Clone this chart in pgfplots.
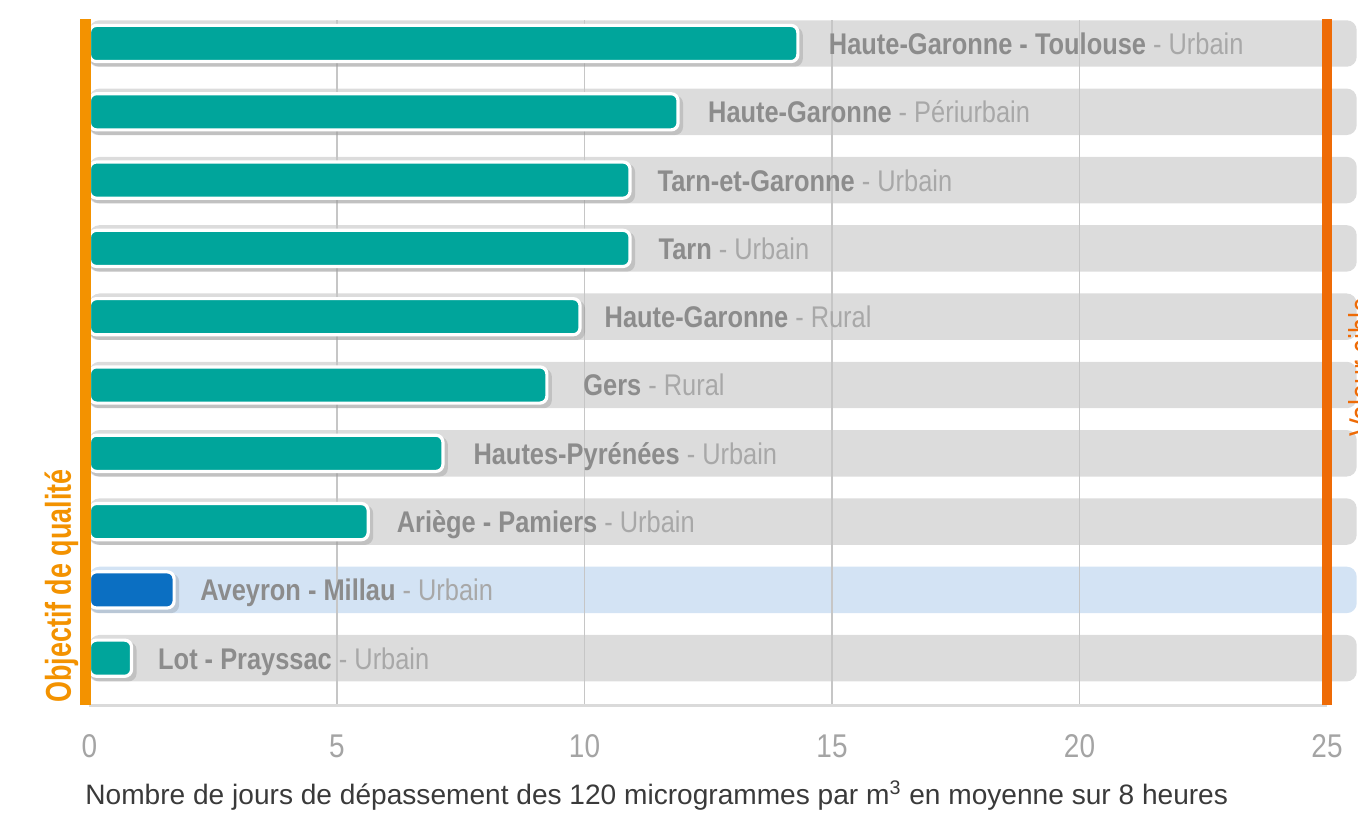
\documentclass[border=0pt]{standalone}
\usepackage{pgfplots}
\pgfplotsset{compat=1.18}
\usepackage{fontspec}
\setmainfont{Liberation Sans}
\newfontfamily\condfont{Liberation Sans}[FakeStretch=0.85]
\newfontfamily\objfont{Liberation Sans}[FakeStretch=0.75]
\definecolor{teal1}{HTML}{00A59B}
\definecolor{blue1}{HTML}{0B6FC2}
\definecolor{grayrow}{HTML}{DCDCDC}
\definecolor{bluerow}{HTML}{D3E3F4}
\definecolor{lblbold}{HTML}{8C8C8C}
\definecolor{lbllight}{HTML}{A8A8A8}
\definecolor{orange1}{HTML}{F39200}
\definecolor{orange2}{HTML}{EE6B06}
\definecolor{gridc}{HTML}{C6C6C6}
\definecolor{basec}{HTML}{DADADA}
\definecolor{xlab}{HTML}{3A3A3A}
\definecolor{tickc}{HTML}{A4A4A4}
\newcommand{\lbl}[2]{\condfont\fontsize{15}{17}\selectfont\textcolor{lblbold}{\bfseries #1} \textcolor{lbllight}{- #2}}
\begin{document}
\begin{tikzpicture}
\begin{axis}[
  x=24.75bp, y=34.15bp,
  xmin=-0.2, xmax=25.626, ymin=0.315, ymax=10.34,
  clip=false,
  axis line style={draw=none},
  major tick length=0pt,
  ytick=\empty,
  xtick={0,5,10,15,20,25},
  /pgf/number format/assume math mode=true,
  xticklabel style={font=\condfont\fontsize{16.5}{18}\selectfont, text=tickc, anchor=base, yshift=-26bp},
]
% background rows
\addplot[xbar, bar width=0.68, bar shift=0pt, fill=grayrow, draw=none, rounded corners=5bp]
  coordinates {(25.6,1) (25.6,3) (25.6,4) (25.6,5) (25.6,6) (25.6,7) (25.6,8) (25.6,9) (25.6,10)};
\addplot[xbar, bar width=0.68, bar shift=0pt, fill=bluerow, draw=none, rounded corners=5bp]
  coordinates {(25.6,2)};
% grid lines
\addplot[gridc, line width=0.75bp] coordinates {(5,0.315) (5,10.34)};
\addplot[gridc, line width=0.75bp] coordinates {(10,0.315) (10,10.34)};
\addplot[gridc, line width=0.75bp] coordinates {(15,0.315) (15,10.34)};
\addplot[gridc, line width=0.75bp] coordinates {(20,0.315) (20,10.34)};
% base line
\addplot[basec, line width=1.5bp] coordinates {(0,0.315) (25,0.315)};
% soft shadows of the bars
\addplot[xbar, bar width=0.58, bar shift=-0.05, fill=black, fill opacity=0.12, draw=none, rounded corners=4bp]
  coordinates {(0.95,1) (1.81,2) (5.73,3) (7.24,4) (9.34,5) (10.01,6) (11.02,7) (11.02,8) (11.99,9) (14.41,10)};
% data bars
\addplot[xbar, bar width=0.53, bar shift=0pt, fill=teal1, draw=white, line width=1.6bp, rounded corners=3.5bp]
  coordinates {(0.85,1) (5.63,3) (7.14,4) (9.24,5) (9.91,6) (10.92,7) (10.92,8) (11.89,9) (14.31,10)};
\addplot[xbar, bar width=0.53, bar shift=0pt, fill=blue1, draw=white, line width=1.6bp, rounded corners=3.5bp]
  coordinates {(1.71,2)};
% threshold lines
\addplot[orange1, line width=5.5bp] coordinates {(-0.08,0.315) (-0.08,10.36)};
\addplot[orange2, line width=5bp] coordinates {(25,0.315) (25,10.36)};
% labels
\node[anchor=base west, inner sep=0pt] at (axis cs:14.93,9.84) {\lbl{Haute-Garonne - Toulouse}{Urbain}};
\node[anchor=base west, inner sep=0pt] at (axis cs:12.49,8.84) {\lbl{Haute-Garonne}{Périurbain}};
\node[anchor=base west, inner sep=0pt] at (axis cs:11.47,7.84) {\lbl{Tarn-et-Garonne}{Urbain}};
\node[anchor=base west, inner sep=0pt] at (axis cs:11.49,6.84) {\lbl{Tarn}{Urbain}};
\node[anchor=base west, inner sep=0pt] at (axis cs:10.40,5.84) {\lbl{Haute-Garonne}{Rural}};
\node[anchor=base west, inner sep=0pt] at (axis cs:9.97,4.84) {\lbl{Gers}{Rural}};
\node[anchor=base west, inner sep=0pt] at (axis cs:7.75,3.84) {\lbl{Hautes-Pyrénées}{Urbain}};
\node[anchor=base west, inner sep=0pt] at (axis cs:6.20,2.84) {\lbl{Ariège - Pamiers}{Urbain}};
\node[anchor=base west, inner sep=0pt] at (axis cs:2.23,1.84) {\lbl{Aveyron - Millau}{Urbain}};
\node[anchor=base west, inner sep=0pt] at (axis cs:1.38,0.84) {\lbl{Lot - Prayssac}{Urbain}};
% vertical threshold texts
\node[anchor=base west, inner sep=0pt, rotate=90, text=orange1, font=\objfont\bfseries\fontsize{18}{20}\selectfont] at (axis cs:-0.374,0.344) {Objectif de qualité};
\node[anchor=base west, inner sep=0pt, rotate=90, text=orange2, font=\objfont\fontsize{18}{20}\selectfont] at (axis cs:25.96,4.24) {Valeur cible};
% x label
\node[anchor=base west, inner sep=0pt, text=xlab, font=\fontsize{14.1}{16}\selectfont] at (axis cs:-0.09,-1.149) {Nombre de jours de dépassement des 120 microgrammes par m\textsuperscript{3} en moyenne sur 8 heures};
% page frame
\coordinate (bbsw) at (axis cs:-1.808,-1.296);
\coordinate (bbne) at (axis cs:25.626,10.637);
\end{axis}
\pgfresetboundingbox
\path[use as bounding box] (bbsw) rectangle (bbne);
\end{tikzpicture}
\end{document}
